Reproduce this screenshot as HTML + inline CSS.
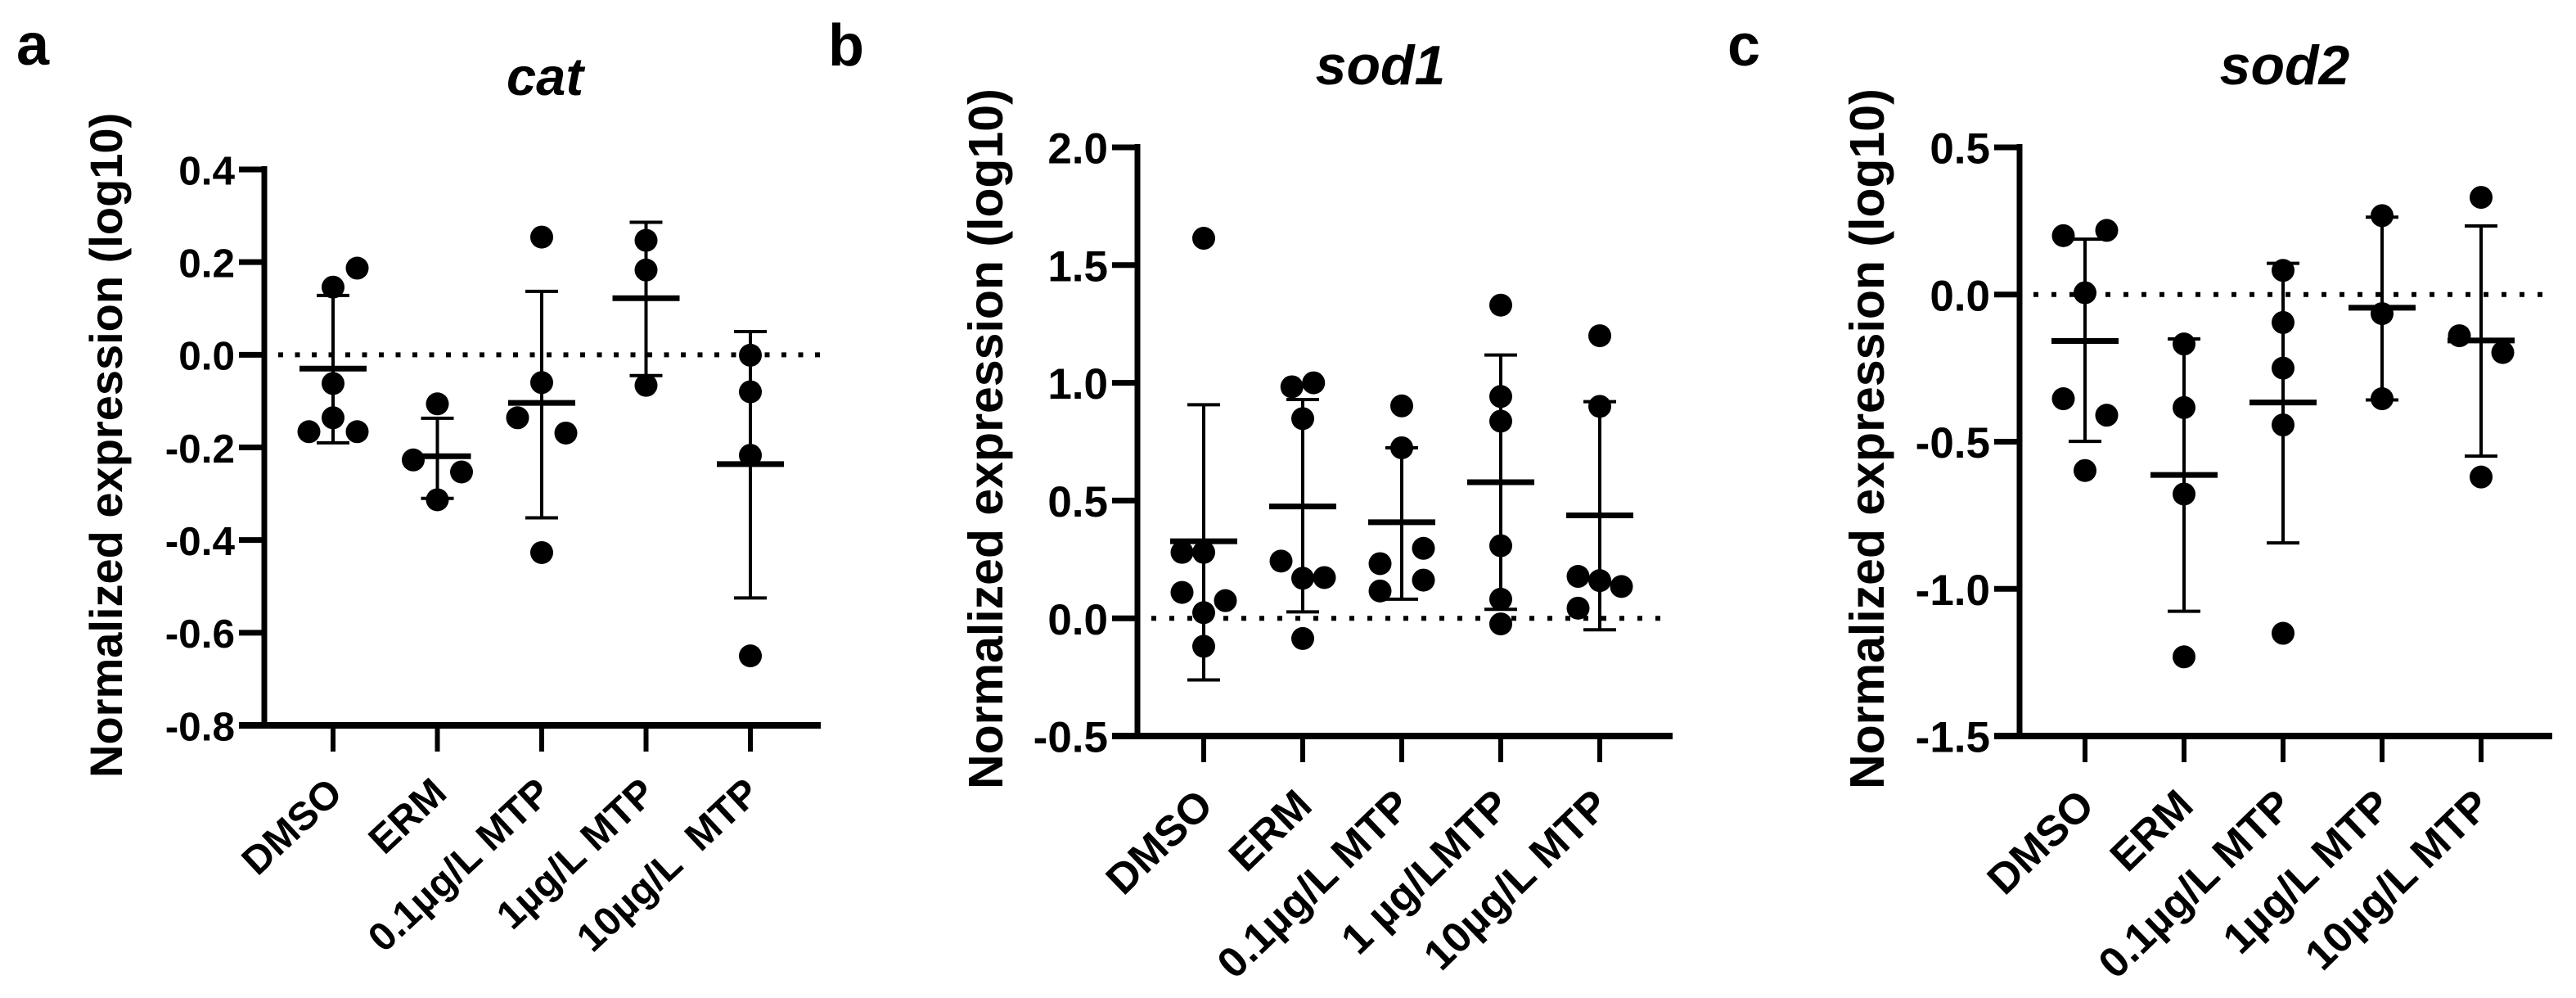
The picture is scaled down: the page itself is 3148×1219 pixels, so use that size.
<!DOCTYPE html>
<html lang="en">
<head>
<meta charset="utf-8">
<title>Normalized expression of cat, sod1 and sod2</title>
<style>
html,body{margin:0;padding:0;background:#fff;width:3148px;height:1219px;overflow:hidden}
svg{display:block}
text{font-family:"Liberation Sans",Arial,sans-serif;font-weight:700;fill:#000;white-space:pre}
</style>
</head>
<body>
<svg id="figure" xmlns="http://www.w3.org/2000/svg" width="3148" height="1219" viewBox="0 0 3148 1219">
<rect width="3148" height="1219" fill="#fff"/>
</svg>
<script>
// ---------- Panel a: cat ----------
const catCategories = ["DMSO", "ERM", "0.1µg/L MTP", "1µg/L MTP", "10µg/L  MTP"];
const catTicks = [0.4, 0.2, 0.0, -0.2, -0.4, -0.6, -0.8];
const catTickLabels = ["0.4", "0.2", "0.0", "-0.2", "-0.4", "-0.6", "-0.8"];
const catPoints = [
  [0.187, 0.146, -0.062, -0.136, -0.166, -0.166],
  [-0.106, -0.227, -0.253, -0.313],
  [0.254, -0.06, -0.136, -0.169, -0.427],
  [0.247, 0.183, -0.066],
  [-0.001, -0.08, -0.217, -0.65]
];
const catSlots = [
  [1, 0, 0, 0, -1, 1],
  [0, -1, 1, 0],
  [0, 0, -1, 1, 0],
  [0, 0, 0],
  [0, 0, 0, 0]
];
const catMeans = [-0.03, -0.219, -0.104, 0.122, -0.236];
const catUpper = [0.128, -0.137, 0.137, 0.286, 0.05];
const catLower = [-0.19, -0.31, -0.352, -0.045, -0.525];

// ---------- Panel b: sod1 ----------
const sod1Categories = ["DMSO", "ERM", "0.1µg/L MTP", "1 µg/LMTP", "10µg/L MTP"];
const sod1Ticks = [2.0, 1.5, 1.0, 0.5, 0.0, -0.5];
const sod1TickLabels = ["2.0", "1.5", "1.0", "0.5", "0.0", "-0.5"];
const sod1Points = [
  [1.614, 0.28, 0.28, 0.11, 0.075, 0.024, -0.119],
  [0.983, 1.0, 0.848, 0.243, 0.17, 0.173, -0.086],
  [0.902, 0.724, 0.232, 0.297, 0.162, 0.116],
  [1.33, 0.942, 0.837, 0.308, 0.081, -0.024],
  [1.2, 0.9, 0.178, 0.16, 0.135, 0.043]
];
const sod1Slots = [
  [0, -1, 0, -1, 1, 0, 0],
  [-0.5, 0.5, 0, -1, 0, 1, 0],
  [0, 0, -1, 1, 1, -1],
  [0, 0, 0, 0, 0, 0],
  [0, 0, -1, 0, 1, -1]
];
const sod1Means = [0.327, 0.475, 0.408, 0.578, 0.437];
const sod1Upper = [0.907, 0.929, 0.724, 1.118, 0.92];
const sod1Lower = [-0.262, 0.027, 0.081, 0.038, -0.049];

// ---------- Panel c: sod2 ----------
const sod2Categories = ["DMSO", "ERM", "0.1µg/L MTP", "1µg/L MTP", "10µg/L MTP"];
const sod2Ticks = [0.5, 0.0, -0.5, -1.0, -1.5];
const sod2TickLabels = ["0.5", "0.0", "-0.5", "-1.0", "-1.5"];
const sod2Points = [
  [0.2, 0.218, 0.006, -0.354, -0.41, -0.598],
  [-0.168, -0.384, -0.678, -1.231],
  [0.082, -0.095, -0.25, -0.443, -1.151],
  [0.268, -0.065, -0.354],
  [0.33, -0.14, -0.197, -0.62]
];
const sod2Slots = [
  [-1, 1, 0, -1, 1, 0],
  [0, 0, 0, 0],
  [0, 0, 0, 0, 0],
  [0, 0, 0],
  [0, -1, 1, 0]
];
const sod2Means = [-0.158, -0.613, -0.367, -0.045, -0.156];
const sod2Upper = [0.188, -0.151, 0.106, 0.263, 0.233];
const sod2Lower = [-0.499, -1.076, -0.844, -0.358, -0.549];

const NS = "http://www.w3.org/2000/svg";
const figure = document.getElementById("figure");

function node(parent, tag, attrs, content) {
  const el = document.createElementNS(NS, tag);
  for (const key in attrs) el.setAttribute(key, attrs[key]);
  if (content !== undefined) el.textContent = content;
  parent.appendChild(el);
  return el;
}
function segment(parent, x1, y1, x2, y2, width) {
  return node(parent, "line", { x1: x1, y1: y1, x2: x2, y2: y2, stroke: "#000", "stroke-width": width });
}

function drawPanel(p) {
  const group = node(figure, "g", {});
  
  

  const yMax = p.ticks[0];
  const yMin = p.ticks[p.ticks.length - 1];
  const yScale = v => p.top + (yMax - v) * (p.bottom - p.top) / (yMax - yMin);
  const xScale = (i, slot) => p.firstX + i * p.stepX + (slot || 0) * p.slotX;

  const letter = node(group, "text", { x: p.letterX, y: p.letterY, "font-size": 72 }, p.letter);
  
  

  const title = node(group, "text", { x: p.titleX, y: p.titleY, "font-size": p.titleSize, "font-style": "italic", "text-anchor": "middle" }, p.title);
  
  

  const yTitle = node(group, "text", {
    transform: "translate(" + p.yTitleX + "," + p.yTitleBottom + ") rotate(-90)",
    "font-size": p.yTitleSize
  }, "Normalized expression (log10)");
  
  

  const yAxis = segment(group, p.axisX, p.top - 4, p.axisX, p.bottom + 4, 7);
  
  

  const xAxis = segment(group, p.axisX - 31, p.bottom, p.rightX, p.bottom, 8);
  
  

  p.ticks.forEach((t, i) => {
    const mark = segment(group, p.axisX - 31, yScale(t), p.axisX, yScale(t), 7);
    
    
    const label = node(group, "text", {
      x: p.axisX - 36, y: yScale(t) + p.tickSize * 0.37,
      "font-size": p.tickSize, "text-anchor": "end"
    }, p.tickLabels[i]);
    
    
  });

  p.categories.forEach((c, i) => {
    const mark = segment(group, xScale(i), p.bottom + 3, xScale(i), p.bottom + 32, 6);
    
    
    const label = node(group, "text", {
      transform: "translate(" + (xScale(i) + 14) + "," + (p.bottom + p.labelDrop) + ") rotate(" + p.labelAngle + ")",
      "font-size": p.labelSize, "text-anchor": "end"
    }, c);
    
    
  });

  const zero = segment(group, p.axisX + 17, yScale(0), p.rightX, yScale(0), 6);
  zero.setAttribute('stroke-dasharray', '6 ' + p.dotGap);
  
  

  p.categories.forEach((c, i) => {
    const x = xScale(i);
    const whisker = segment(group, x, yScale(p.upper[i]), x, yScale(p.lower[i]), 4);
    
    
    const capTop = segment(group, x - 20, yScale(p.upper[i]), x + 20, yScale(p.upper[i]), 4);
    
    
    const capBottom = segment(group, x - 20, yScale(p.lower[i]), x + 20, yScale(p.lower[i]), 4);
    
    
    const mean = segment(group, x - 41, yScale(p.means[i]), x + 41, yScale(p.means[i]), 7);
    
    
    p.points[i].forEach((v, j) => {
      const dot = node(group, "ellipse", { cx: xScale(i, p.slots[i][j]), cy: yScale(v), rx: 14, ry: 14, fill: "#000" });
      
      
    });
  });
}

drawPanel({
  letter: "a", title: "cat", categories: catCategories, ticks: catTicks, tickLabels: catTickLabels,
  points: catPoints, slots: catSlots, means: catMeans, upper: catUpper, lower: catLower,
  axisX: 323, rightX: 1003, top: 207, bottom: 886, firstX: 407, stepX: 127.5, slotX: 29.5,
  letterX: 20, letterY: 79, titleX: 666, titleY: 116, titleSize: 65,
  yTitleX: 149, yTitleBottom: 950, yTitleSize: 56, tickSize: 49.5, labelSize: 48.5, labelAngle: -43, labelDrop: 86, dotGap: 14.5
});
drawPanel({
  letter: "b", title: "sod1", categories: sod1Categories, ticks: sod1Ticks, tickLabels: sod1TickLabels,
  points: sod1Points, slots: sod1Slots, means: sod1Means, upper: sod1Upper, lower: sod1Lower,
  axisX: 1390, rightX: 2044, top: 180, bottom: 899, firstX: 1471, stepX: 121, slotX: 26.5,
  letterX: 1012, letterY: 80, titleX: 1687, titleY: 103, titleSize: 68,
  yTitleX: 1225, yTitleBottom: 964, yTitleSize: 59, tickSize: 53, labelSize: 52, labelAngle: -44, labelDrop: 88, dotGap: 16
});
drawPanel({
  letter: "c", title: "sod2", categories: sod2Categories, ticks: sod2Ticks, tickLabels: sod2TickLabels,
  points: sod2Points, slots: sod2Slots, means: sod2Means, upper: sod2Upper, lower: sod2Lower,
  axisX: 2468, rightX: 3119, top: 180, bottom: 899, firstX: 2548, stepX: 121, slotX: 26.5,
  letterX: 2111, letterY: 80, titleX: 2792, titleY: 103, titleSize: 68,
  yTitleX: 2302, yTitleBottom: 964, yTitleSize: 59, tickSize: 53, labelSize: 52, labelAngle: -44, labelDrop: 88, dotGap: 16
});
</script>
</body>
</html>
